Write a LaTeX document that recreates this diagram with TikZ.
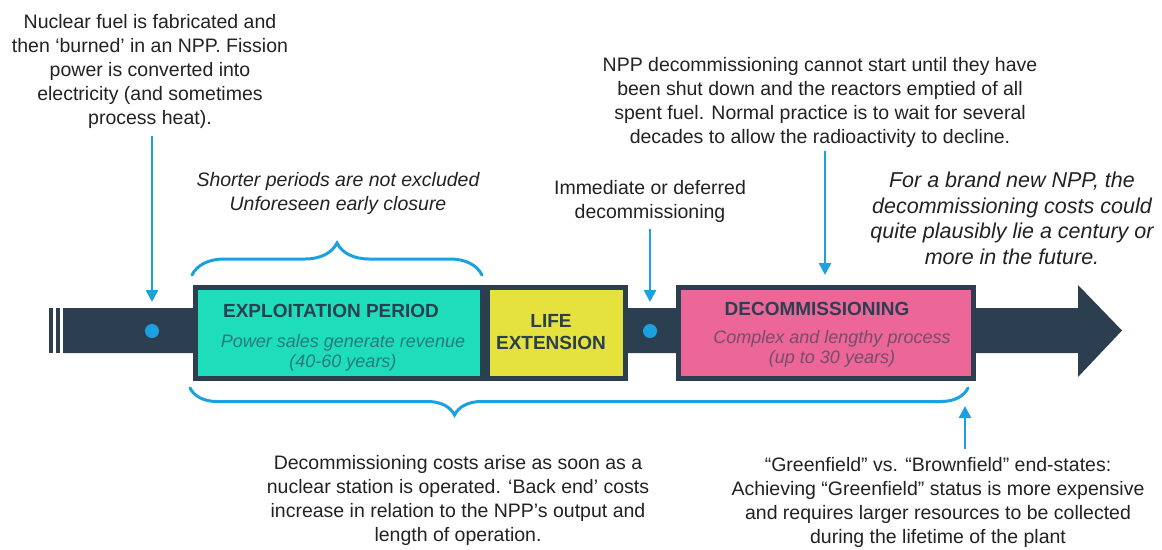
\documentclass[tikz,border=0pt]{standalone}
\usepackage{fontspec}
\setmainfont{Liberation Sans}
\usetikzlibrary{arrows.meta,decorations.pathreplacing}

\definecolor{barcol}{RGB}{44,63,80}
\definecolor{accent}{RGB}{27,160,224}
\definecolor{tealfill}{RGB}{29,221,187}
\definecolor{yellowfill}{RGB}{229,226,62}
\definecolor{pinkfill}{RGB}{236,102,151}
\definecolor{txt}{RGB}{34,34,34}

\tikzset{
  note/.style={anchor=north, align=center, inner sep=0pt, text=txt,
    font=\fontsize{19.5}{24}\selectfont},
  inote/.style={note, font=\fontsize{19.5}{24}\selectfont\itshape},
  phase/.style={draw=barcol, line width=5pt, inner sep=0pt},
  ptitle/.style={inner sep=0pt, text=barcol, align=center,
    font=\fontsize{19}{21.5}\selectfont\bfseries},
  psub/.style={inner sep=0pt, text=barcol, text opacity=0.62, align=center,
    font=\fontsize{18}{20}\selectfont\itshape},
  pointer/.style={draw=accent, line width=2.6pt,
    -{Triangle[length=12pt,width=12pt]}},
  spanbrace/.style={draw=accent, line width=3pt, line cap=round,
    decorate},
  milestone/.style={circle, fill=accent, inner sep=0pt, minimum size=14pt},
}

\begin{document}
\begin{tikzpicture}[x=1pt, y=-1pt]
\useasboundingbox (0,0) rectangle (1162,549);
\fill[white] (0,0) rectangle (1162,549);

% timeline arrow
\fill[barcol] (49,308) rectangle (53,353);
\fill[barcol] (56,308) rectangle (60,353);
\fill[barcol] (63,308) -- (1078,308) -- (1078,285) -- (1122,330.5)
  -- (1078,377) -- (1078,353) -- (63,353) -- cycle;

% phases
\node[phase, fill=tealfill, minimum width=287pt, minimum height=91pt,
  anchor=north west] (expl) at (192.5,284.5) {};
\node[phase, fill=yellowfill, minimum width=138pt, minimum height=91pt,
  anchor=north west] (life) at (484.5,284.5) {};
\node[phase, fill=pinkfill, minimum width=295pt, minimum height=91pt,
  anchor=north west] (decom) at (675.5,284.5) {};

\node[ptitle, anchor=base] (explt) at (331,317) {EXPLOITATION PERIOD};
\node[psub, anchor=base] (expls1) at (343,347) {Power sales generate revenue};
\node[psub, anchor=base] (expls2) at (343,367) {(40-60 years)};
\node[ptitle, anchor=base] (lifet1) at (551,327) {LIFE};
\node[ptitle, anchor=base] (lifet2) at (551,349) {EXTENSION};
\node[ptitle, anchor=base] (decomt) at (817,315) {DECOMMISSIONING};
\node[psub, anchor=base] (decoms1) at (832,343) {Complex and lengthy process};
\node[psub, anchor=base] (decoms2) at (832,363) {(up to 30 years)};

% milestones on the line
\node[milestone] (dot1) at (152,331) {};
\node[milestone] (dot2) at (650,331) {};

% notes
\node[note] (fuel) at (150,14.5) {Nuclear fuel is fabricated and\\
  then ‘burned’ in an NPP. Fission\\ power is converted into\\
  electricity (and sometimes\\ process heat).};
\node[note] (shut) at (820,57.5) {NPP decommissioning cannot start until they have\\
  been shut down and the reactors emptied of all\\
  spent fuel. Normal practice is to wait for several\\
  decades to allow the radioactivity to decline.};
\node[inote] (short) at (338,172.5) {Shorter periods are not excluded\\
  Unforeseen early closure};
\node[note] (defer) at (650,180.5) {Immediate or deferred\\ decommissioning};
\node[inote, font=\fontsize{21.5}{25.5}\selectfont\itshape] (future)
  at (1012,172) {For a brand new NPP, the\\
  decommissioning costs could\\ quite plausibly lie a century or\\
  more in the future.};
\node[note] (costs) at (458,455.5) {Decommissioning costs arise as soon as a\\
  nuclear station is operated. ‘Back end’ costs\\
  increase in relation to the NPP’s output and\\ length of operation.};
\node[note] (green) at (938,457) {“Greenfield” vs. “Brownfield” end-states:\\
  Achieving “Greenfield” status is more expensive\\
  and requires larger resources to be collected\\
  during the lifetime of the plant};

% pointer ends
\coordinate (fuelA) at (152,136);
\coordinate (fuelB) at (152,302);
\coordinate (deferA) at (650,229);
\coordinate (deferB) at (650,302);
\coordinate (shutA) at (825,151);
\coordinate (shutB) at (825,275);
\coordinate (greenA) at (965,449);
\coordinate (greenB) at (965,406);

\draw[pointer] (fuelA) -- (fuelB);
\draw[pointer] (deferA) -- (deferB);
\draw[pointer] (shutA) -- (shutB);
\draw[pointer] (greenA) -- (greenB);

% braces
\coordinate (b1s) at (192,275);
\coordinate (b1e) at (482,275);
\coordinate (b2s) at (968,388);
\coordinate (b2e) at (190,388);
\draw[spanbrace, decoration={brace, amplitude=32pt, aspect=0.5}] (b1s) -- (b1e);
\draw[spanbrace, decoration={brace, amplitude=27pt, aspect=0.66}] (b2s) -- (b2e);
\end{tikzpicture}
\end{document}
